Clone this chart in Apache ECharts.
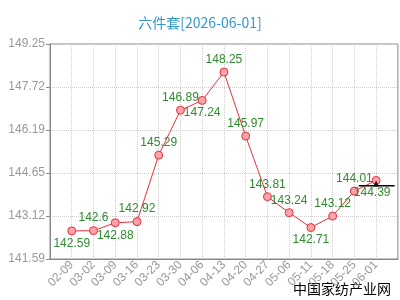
<!DOCTYPE html>
<html><head><meta charset="utf-8">
<script src="https://cdn.jsdelivr.net/npm/echarts@6/dist/echarts.min.js"></script>
<style>html,body{margin:0;padding:0;background:#fff}#c{width:400px;height:300px}</style>
</head><body><div id="c"></div>
<script>
var categories = ['02-09','03-02','03-09','03-16','03-23','03-30','04-06','04-13','04-20','04-27','05-06','05-11','05-18','05-25','06-01'];
var values = [142.59,142.6,142.88,142.92,145.29,146.89,147.24,148.25,145.97,143.81,143.24,142.71,143.12,144.01,144.39];
var labelPos = ['bottom','top','bottom','top','top','top','bottom','top','top','top','top','bottom','top','top','bottom'];
var yTicks = [141.59,143.12,144.65,146.19,147.72,149.25];
var trendLineX = [13.2, 14.85];
var trendLineY = 144.2;
var trendArrowX = 14.0;
var trendArrowY = 144.28;

var yBase = yTicks[0];
var yStep = (yTicks[yTicks.length-1]-yTicks[0])/(yTicks.length-1);

var chart = echarts.init(document.getElementById('c'));
var data = values.map(function(v,i){
  return {value:[i, v - yBase], label:{position:labelPos[i], offset: i===values.length-1?[-4,0]:[0,0]}};
});
chart.setOption({
  animation:false,
  title:{text:'六件套[2026-06-01]', left:'center', top:11,
    textStyle:{color:'#3399CC', fontSize:14, fontWeight:'normal', fontFamily:'"Noto Sans CJK SC", "DejaVu Sans Mono", monospace'}},
  grid:{left:50, right:1, top:44, bottom:41, show:true, borderColor:'#888', borderWidth:1},
  xAxis:{type:'value', min:-1, max:categories.length, interval:1,
    axisLine:{onZero:false, lineStyle:{color:'#888'}},
    axisTick:{show:false},
    axisLabel:{rotate:45, color:'#999', fontSize:12, margin:4, fontFamily:'Arial, "Liberation Sans", sans-serif',
      formatter:function(v){return (v>=0 && v<categories.length)?categories[v]:'';}},
    splitLine:{show:true, lineStyle:{color:'#ccc', type:'dotted'}}
  },
  yAxis:{type:'value', min:0, max:yTicks[yTicks.length-1]-yBase, interval:yStep,
    axisLine:{show:true, onZero:false, lineStyle:{color:'#888'}},
    axisTick:{show:true, length:4, lineStyle:{color:'#888'}},
    axisLabel:{color:'#999', fontSize:12, margin:5, fontFamily:'Arial, "Liberation Sans", sans-serif',
      formatter:function(v){return (v+yBase).toFixed(2);}},
    splitLine:{show:true, lineStyle:{color:'#ccc', type:'dotted'}}
  },
  series:[{
    type:'line', data:data, symbol:'circle', symbolSize:8,
    lineStyle:{color:'#e8303a', width:1},
    itemStyle:{color:'#f9a3aa', borderColor:'#e8303a', borderWidth:1},
    label:{show:true, color:'#2e8b2e', fontSize:12, distance:2, fontFamily:'Arial, "Liberation Sans", sans-serif',
      formatter:function(p){return String(values[p.dataIndex]);}}
  },{
    type:'line', data:[[trendLineX[0], trendLineY-yBase],[trendLineX[1], trendLineY-yBase]],
    symbol:'none', lineStyle:{color:'#000', width:1.5}, silent:true, z:5
  },{
    type:'scatter', data:[[trendArrowX, trendArrowY-yBase]], symbol:'triangle', symbolSize:[6,6],
    itemStyle:{color:'#000'}, silent:true, z:6
  }],
  graphic:[{type:'text', right:9, bottom:4,
    style:{text:'中国家纺产业网', fill:'#000', font:'14px "Noto Sans CJK SC", sans-serif'}}]
});
</script></body></html>
